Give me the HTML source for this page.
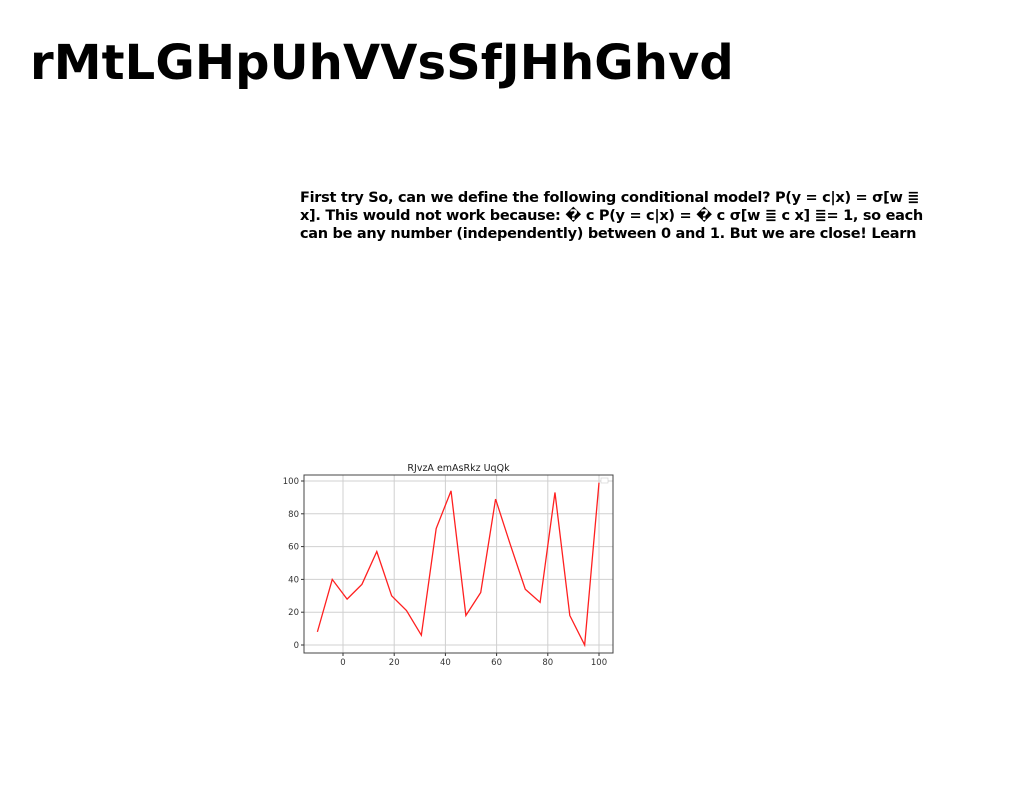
<!DOCTYPE html>
<html><head><meta charset="utf-8"><style>
body{margin:0;width:1024px;height:788px;background:#fff;font-family:"Liberation Sans","DejaVu Sans",sans-serif;position:relative;overflow:hidden}
h1{position:absolute;left:30px;top:35px;margin:0;font-size:48px;font-weight:bold;font-family:"DejaVu Sans","Liberation Sans",sans-serif;letter-spacing:0.1px}
p{position:absolute;left:300px;top:189px;margin:0;width:640px;font-size:14.5px;line-height:18px;font-weight:bold;font-family:"DejaVu Sans","Liberation Sans",sans-serif;letter-spacing:-0.3px}
svg{position:absolute;left:0;top:0}
</style></head><body>
<h1>rMtLGHpUhVVsSfJHhGhvd</h1>
<p>First try So, can we define the following conditional model? P(y = c|x) = σ[w ≣ x]. This would not work because: � c P(y = c|x) = � c σ[w ≣ c x] ≣= 1, so each can be any number (independently) between 0 and 1. But we are close! Learn</p>
<svg id="chart" width="1024" height="788"></svg>
<script>
const xValues=[-10,-4.2,1.6,7.4,13.2,19,24.8,30.6,36.4,42.2,48,53.8,59.6,65.4,71.2,77,82.8,88.6,94.4,100];
const yValues=[8,40,28,37,57,30,21,6,71,94,18,32,89,61,34,26,93,18,0,99];
const xTicks=[0,20,40,60,80,100];
const yTicks=[0,20,40,60,80,100];
const chartTitle="RJvzA emAsRkz UqQk";
const svg=document.getElementById('chart');
const NS='http://www.w3.org/2000/svg';
const L=304,R=613,T=475,B=653;
const sx=v=>343+v*2.56;
const sy=v=>645-v*1.64;
function mk(tag,attrs,parent){const e=document.createElementNS(NS,tag);for(const k in attrs)e.setAttribute(k,attrs[k]);(parent||svg).appendChild(e);return e;}
xTicks.forEach(t=>{
 const g=mk('line',{x1:sx(t),x2:sx(t),y1:T,y2:B,stroke:'#d0d0d0','stroke-width':1});
 
 
 mk('line',{x1:sx(t),x2:sx(t),y1:B,y2:B+3,stroke:'#333'});
 const tx=mk('text',{x:sx(t),y:B+12,'font-size':8.5,'text-anchor':'middle',fill:'#333','font-family':'DejaVu Sans, sans-serif'});
 tx.textContent=t;
 
 
});
yTicks.forEach(t=>{
 const g=mk('line',{x1:L,x2:R,y1:sy(t),y2:sy(t),stroke:'#d0d0d0','stroke-width':1});
 
 
 mk('line',{x1:L-3,x2:L,y1:sy(t),y2:sy(t),stroke:'#333'});
 const tx=mk('text',{x:L-5,y:sy(t)+3,'font-size':8.5,'text-anchor':'end',fill:'#333','font-family':'DejaVu Sans, sans-serif'});
 tx.textContent=t;
 
 
});
const frame=mk('rect',{x:L,y:T,width:R-L,height:B-T,fill:'none',stroke:'#444','stroke-width':1});


const line=mk('polyline',{points:xValues.map((x,i)=>sx(x)+','+sy(yValues[i])).join(' '),fill:'none',stroke:'#ff2020','stroke-width':1.3});


const lg=mk('rect',{x:601,y:478,width:7,height:5,fill:'#fff',stroke:'#ccc','stroke-width':0.6});


const tt=mk('text',{x:(L+R)/2,y:471,'font-size':9.5,'text-anchor':'middle',fill:'#222','font-family':'DejaVu Sans, sans-serif'});
tt.textContent=chartTitle;


</script>
</body></html>
